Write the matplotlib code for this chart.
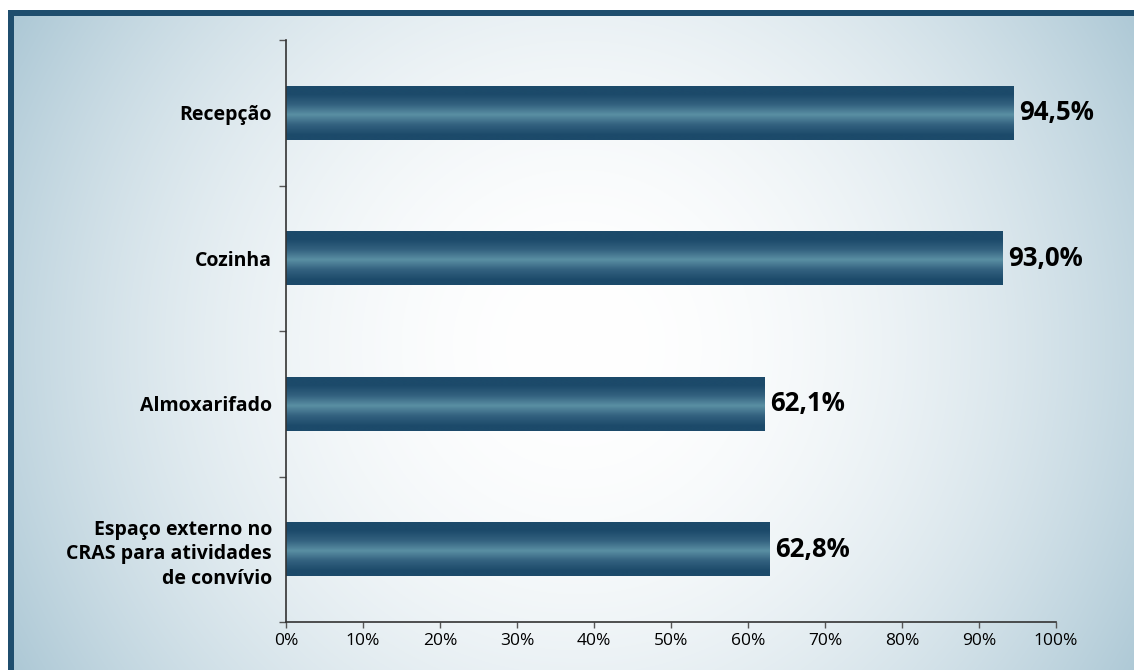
import numpy as np
import matplotlib
matplotlib.use('Agg')
import matplotlib.pyplot as plt
from matplotlib.colors import LinearSegmentedColormap

plt.rcParams['font.family'] = ['Open Sans', 'DejaVu Sans']

categories = ['Recepção', 'Cozinha', 'Almoxarifado',
              'Espaço externo no\nCRAS para atividades\nde convívio']
values = [94.5, 93.0, 62.1, 62.8]
value_labels = ['94,5%', '93,0%', '62,1%', '62,8%']
x_ticks = [0, 10, 20, 30, 40, 50, 60, 70, 80, 90, 100]
x_tick_labels = [f'{t}%' for t in x_ticks]

W, H = 1134, 670

fig = plt.figure(figsize=(W / 100, H / 100), dpi=100)

# radial background with the frame lines on top and left
bg = fig.add_axes([0, 0, 1, 1], zorder=0)
yy, xx = np.mgrid[0:H, 0:W]
r = np.hypot(xx - 577, yy - 345) / 670
r = np.clip(r, 0, 1)
edge = np.array([168, 197, 211]) / 255
img = 1 - (1 - edge) * (r[..., None] ** 2.0)
frame = np.array([31, 78, 110]) / 255
img[:10, :] = 1
img[:, :8] = 1
img[10:16, 8:] = frame
img[10:, 8:14] = frame
bg.imshow(img, aspect='auto', interpolation='bilinear')
bg.axis('off')

ax = fig.add_axes([286 / W, 1 - 622 / H, (1056 - 286) / W, (622 - 40) / H], zorder=1)
ax.patch.set_alpha(0)

pos = np.arange(len(categories))
bars = ax.barh(pos, values, height=0.37, color='none', edgecolor='none')

# shaded fill: dark edges, lighter band through the middle
bar_cmap = LinearSegmentedColormap.from_list(
    'bar', ['#1c4a6a', '#33617f', '#5a8fa3'])
g = np.linspace(0, 1, 200)
shade = 1 - np.abs(2 * (g - 0.03) - 1)
shade = np.clip((shade - 0.25) / 0.75, 0, 1)
for b in bars:
    x0, y0, w, h = b.get_x(), b.get_y(), b.get_width(), b.get_height()
    im = ax.imshow(shade[:, None], cmap=bar_cmap, vmin=0, vmax=1,
                   extent=(x0, x0 + w, y0 + h, y0), aspect='auto',
                   interpolation='bilinear', zorder=2)
    im.set_clip_path(b)

for yi, v, lab in zip(pos, values, value_labels):
    ax.annotate(lab, (v, yi), xytext=(4, 0), textcoords='offset points',
                ha='left', va='center', fontsize=18.5, fontweight='bold',
                color='black')

ax.set_xlim(0, 100)
ax.set_ylim(len(categories) - 0.5, -0.5)

ax.set_xticks(x_ticks)
ax.set_xticklabels(x_tick_labels, fontsize=12.5)
ax.set_yticks(np.arange(len(categories) + 1) - 0.5)
ax.set_yticklabels([])
ax.set_yticks(pos, minor=True)
ax.set_yticklabels(categories, minor=True, fontsize=14, fontweight='bold',
                   ha='right', linespacing=1.3)

ax.tick_params(axis='x', direction='out', length=4, width=1, color='#555555',
               pad=4)
ax.tick_params(axis='y', which='major', direction='out', length=5, width=1,
               color='#555555')
ax.tick_params(axis='y', which='minor', length=0, pad=10)

for s in ['top', 'right']:
    ax.spines[s].set_visible(False)
for s in ['left', 'bottom']:
    ax.spines[s].set_color('#333333')
    ax.spines[s].set_linewidth(1.2)

fig.savefig('out.png', dpi=100)
